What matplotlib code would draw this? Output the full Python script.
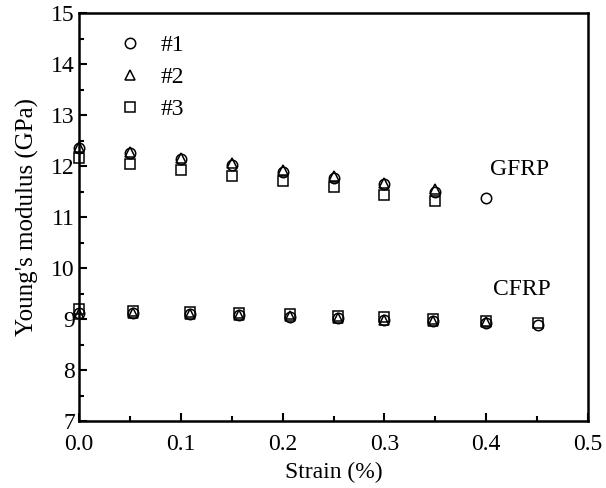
import matplotlib
matplotlib.use("Agg")
import matplotlib.pyplot as plt
from matplotlib.ticker import MultipleLocator, FormatStrFormatter

plt.rcParams['font.family'] = ['Liberation Serif', 'DejaVu Serif']
plt.rcParams['mathtext.fontset'] = 'stix'

# GFRP data
g_strain = [0.0, 0.05, 0.10, 0.15, 0.20, 0.25, 0.30, 0.35, 0.40]
g1 = [12.35, 12.25, 12.13, 12.02, 11.89, 11.77, 11.64, 11.50, 11.37]
g2_strain = [0.0, 0.05, 0.10, 0.15, 0.20, 0.25, 0.30, 0.35]
g2 = [12.37, 12.27, 12.15, 12.05, 11.92, 11.80, 11.67, 11.55]
g3_strain = [0.0, 0.05, 0.10, 0.15, 0.20, 0.25, 0.30, 0.35]
g3 = [12.15, 12.04, 11.93, 11.81, 11.70, 11.58, 11.44, 11.31]

# CFRP data
c_strain = [0.0, 0.053, 0.109, 0.157, 0.207, 0.254, 0.30, 0.348, 0.40, 0.451]
c1 = [9.12, 9.11, 9.09, 9.07, 9.04, 9.01, 8.98, 8.96, 8.92, 8.88]
c2_strain = [0.0, 0.053, 0.109, 0.157, 0.207, 0.254, 0.30, 0.348, 0.40]
c2 = [9.10, 9.12, 9.10, 9.08, 9.05, 9.02, 8.99, 8.97, 8.94]
c3 = [9.20, 9.16, 9.14, 9.11, 9.09, 9.06, 9.03, 9.00, 8.97, 8.93]

labels = ['#1', '#2', '#3']

fig = plt.figure(figsize=(6.06, 4.88), dpi=100)
ax = fig.add_axes([79/606, 1 - 421/488, (588-79)/606, (421-13)/488])

ms = 7.5
kw = dict(linestyle='none', markerfacecolor='none', markeredgecolor='black',
          markeredgewidth=1.1, markersize=ms, clip_on=False)
h1, = ax.plot(g_strain, g1, marker='o', label=labels[0], **kw)
h2, = ax.plot(g2_strain, g2, marker='^', label=labels[1], **kw)
h3, = ax.plot(g3_strain, g3, marker='s', label=labels[2], **kw)
ax.plot(c_strain, c1, marker='o', **kw)
ax.plot(c2_strain, c2, marker='^', **kw)
ax.plot(c_strain, c3, marker='s', **kw)

ax.set_xlim(0, 0.5)
ax.set_ylim(7, 15)
ax.xaxis.set_major_locator(MultipleLocator(0.1))
ax.xaxis.set_minor_locator(MultipleLocator(0.05))
ax.yaxis.set_major_locator(MultipleLocator(1))
ax.yaxis.set_minor_locator(MultipleLocator(0.5))
ax.xaxis.set_major_formatter(FormatStrFormatter('%.1f'))
ax.tick_params(which='both', direction='in', top=False, right=False, labelsize=17, width=1.5)
ax.tick_params(which='major', length=6)
ax.tick_params(which='minor', length=3.5)
ax.tick_params(axis='x', pad=9)
ax.tick_params(axis='y', pad=3)
for s in ax.spines.values():
    s.set_linewidth(1.8)

ax.set_xlabel('Strain (%)', fontsize=17, labelpad=5)
ax.set_ylabel("Young's modulus (GPa)", fontsize=18, labelpad=9)

ax.text(0.404, 11.93, 'GFRP', fontsize=17, ha='left', va='center')
ax.text(0.407, 9.57, 'CFRP', fontsize=17, ha='left', va='center')

leg = ax.legend(handles=[h1, h2, h3], loc='upper left', frameon=False, fontsize=17,
                bbox_to_anchor=(0.035, 1.0), handletextpad=0.8, labelspacing=0.45,
                handlelength=1.0)

fig.savefig('out.png', dpi=100)
